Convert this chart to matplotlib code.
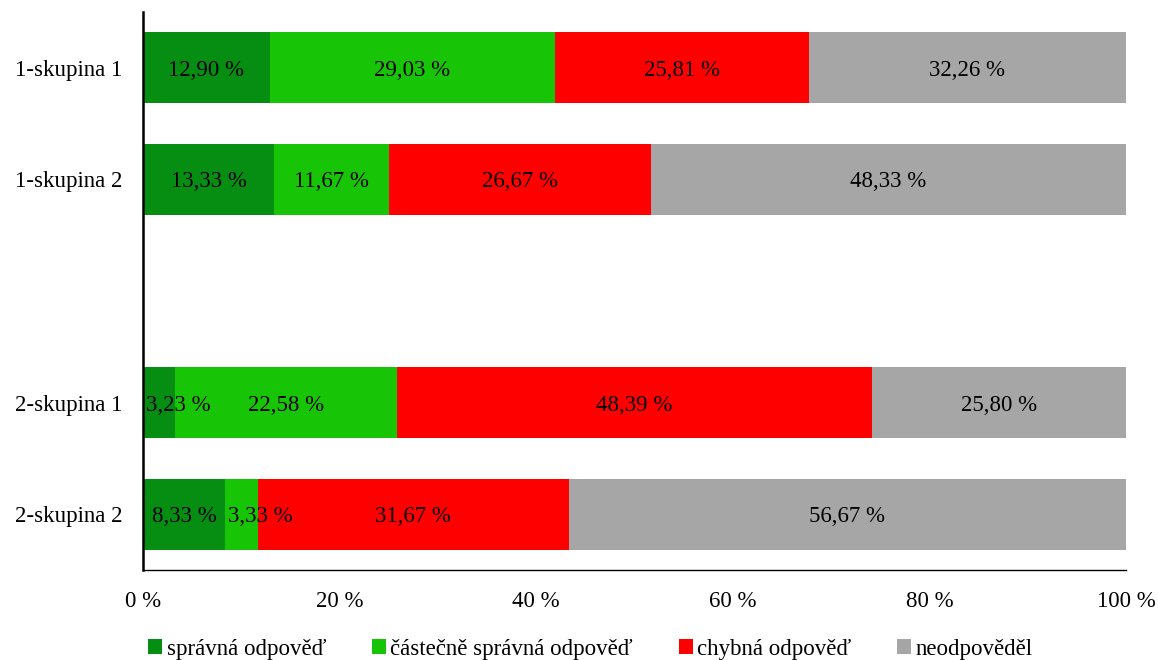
import numpy as np
import matplotlib
matplotlib.use("Agg")
import matplotlib.pyplot as plt
from matplotlib.patches import Patch

plt.rcParams['font.family'] = ['Liberation Serif', 'DejaVu Serif']

# Data
positions = [0, 1, 3, 4]   # slot 2 stays empty (gap between the two groups)
labels = ['1-skupina 1', '1-skupina 2', '2-skupina 1', '2-skupina 2']
series = ['správná odpověď', 'částečně správná odpověď', 'chybná odpověď', 'neodpověděl']
correct = [12.90, 13.33, 3.23, 8.33]
partial = [29.03, 11.67, 22.58, 3.33]
wrong = [25.81, 26.67, 48.39, 31.67]
no_answer = [32.26, 48.33, 25.80, 56.67]

colors = ['#058E12', '#17C506', '#FF0000', '#A6A6A6']
fs = 16.5

fig = plt.figure(figsize=(11.58, 6.6), dpi=100)
ax = fig.add_axes([143 / 1158, 1 - 570 / 660, (1126 - 143) / 1158, (570 - 12) / 660])

left = np.zeros(len(labels))
for name, vals, col in zip(series, [correct, partial, wrong, no_answer], colors):
    vals = np.array(vals)
    ax.barh(positions, vals, left=left, height=0.635, color=col, label=name)
    for p, l, v in zip(positions, left, vals):
        txt = f'{v:.2f}'.replace('.', ',') + ' %'
        # small segments: label pushed a bit to the right
        dx = 14 if v < 5 else 0
        ax.annotate(txt, (l + v / 2, p), xytext=(dx, 0), textcoords='offset points',
                    ha='center', va='center_baseline', fontsize=fs, color='black')
    left = left + vals

ax.set_xlim(0, 100)
ax.set_ylim(4.5, -0.5)
ax.set_yticks(positions)
ax.set_yticklabels(labels, fontsize=fs, va='center_baseline')
ax.set_xticks(np.arange(0, 101, 20))
ax.set_xticklabels([f'{t} %' for t in range(0, 101, 20)], fontsize=fs)
ax.tick_params(axis='y', length=0, pad=15)
ax.tick_params(axis='x', length=0, pad=15)

for s in ['top', 'right']:
    ax.spines[s].set_visible(False)
ax.spines['left'].set_linewidth(1.8)
ax.spines['bottom'].set_linewidth(1.0)

handles = [Patch(facecolor=c, label=n) for c, n in zip(colors, series)]
fig.legend(handles=handles, loc='center', bbox_to_anchor=(0.51, 0.0165), ncol=4,
           frameon=False, fontsize=fs, handlelength=0.6, handleheight=0.6,
           handletextpad=0.2, columnspacing=2.0, borderaxespad=0)

fig.savefig('out.png', dpi=100)
